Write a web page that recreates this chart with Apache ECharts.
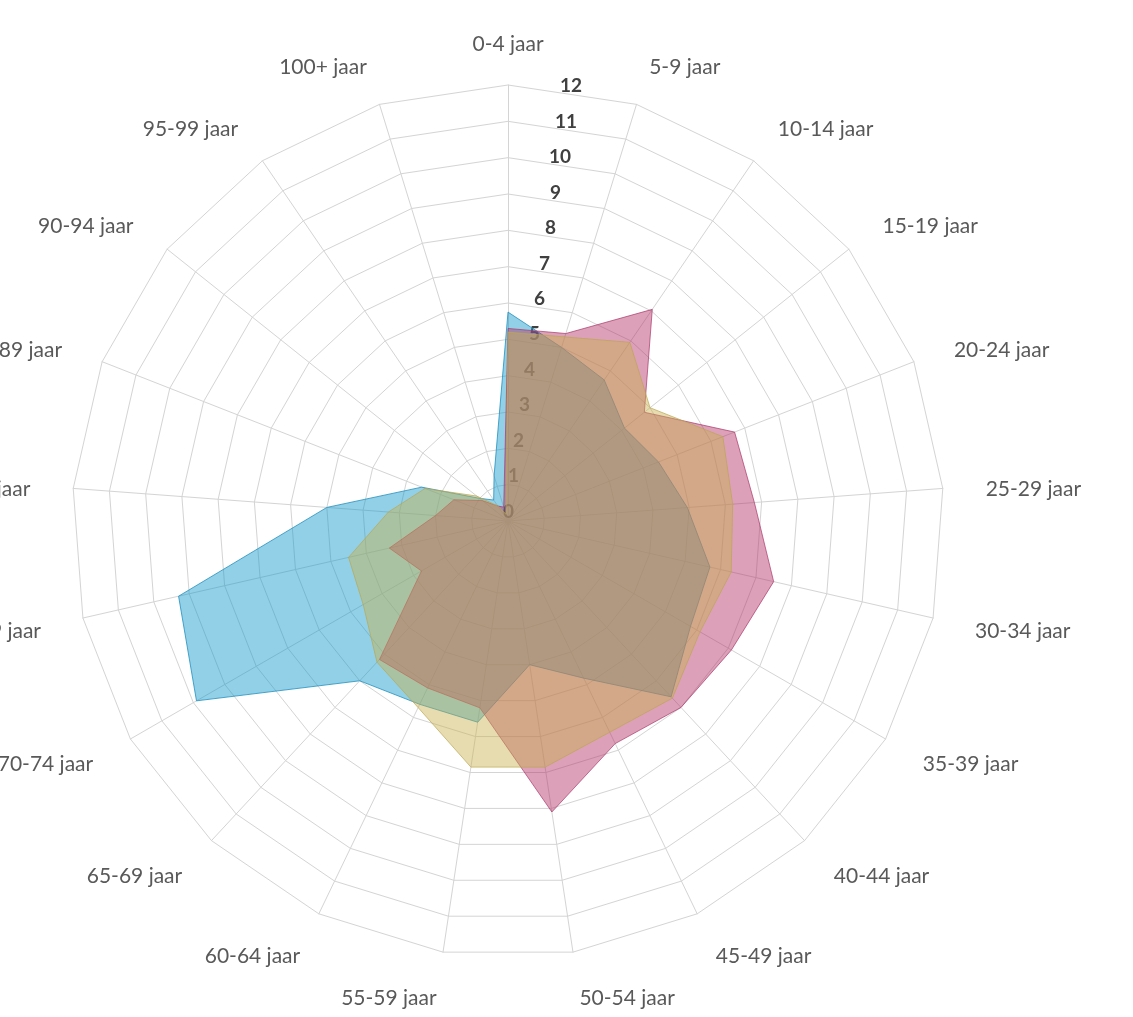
<!DOCTYPE html>
<html>
<head>
<meta charset="utf-8">
<script src="https://cdn.jsdelivr.net/npm/echarts@6/dist/echarts.min.js"></script>
<style>
  html, body { margin: 0; padding: 0; background: #fff; }
  #chart { width: 1133px; height: 1017px; }
</style>
</head>
<body>
<div id="chart"></div>
<script>
// leeftijdsgroepen (met de klok mee vanaf boven)
var ageGroups = ['0-4 jaar', '5-9 jaar', '10-14 jaar', '15-19 jaar', '20-24 jaar', '25-29 jaar',
  '30-34 jaar', '35-39 jaar', '40-44 jaar', '45-49 jaar', '50-54 jaar', '55-59 jaar',
  '60-64 jaar', '65-69 jaar', '70-74 jaar', '75-79 jaar', '80-84 jaar', '85-89 jaar',
  '90-94 jaar', '95-99 jaar', '100+ jaar'];

var blauw = [5.75, 5.0, 4.7, 4.1, 4.45, 4.95, 5.7, 5.8, 6.6, 4.8, 4.0, 5.6, 5.6, 6.0, 9.9, 9.3, 5.0, 2.55, 1.0, 0.7, 1.3];
var roze  = [5.3, 5.4, 7.05, 4.8, 6.7, 6.8, 7.5, 7.1, 7.0, 6.8, 8.1, 5.2, 5.1, 5.2, 2.75, 3.35, 2.0, 1.6, 0.9, 0.5, 0.4];
var geel  = [5.2, 5.3, 5.95, 5.0, 6.35, 6.2, 6.3, 6.1, 6.65, 6.45, 6.85, 6.85, 5.7, 5.3, 4.6, 4.5, 3.3, 2.45, 1.1, 0.5, 0.2];

var valueTicks = [0, 1, 2, 3, 4, 5, 6, 7, 8, 9, 10, 11, 12];
var axisMax = 12;

// echarts legt de assen tegen de klok in, dus volgorde omdraaien (0-4 blijft boven)
var order = [0];
for (var k = ageGroups.length - 1; k > 0; k--) order.push(k);

function reorder(arr) {
  return order.map(function (i) { return arr[i]; });
}

var indicators = order.map(function (i, idx) {
  var ind = { name: ageGroups[i], min: 0, max: axisMax };
  if (idx === 0) {
    ind.axisLabel = { show: true };
    ind.nameGap = 30;
  }
  return ind;
});

// waardelabels lopen schuin naar rechts weg, zoals in excel
var labelRich = {};
valueTicks.forEach(function (v) {
  var up = 9.5 - 0.9 * v;
  var left = v < 10 ? 5.2 * v : 5.2 * v - 5.6;
  labelRich['t' + v] = {
    color: '#404040',
    fontSize: 19,
    fontWeight: 'bold',
    fontFamily: 'Lato',
    padding: [up < 0 ? -2 * up : 0, 0, up > 0 ? 2 * up : 0, Math.round(left)]
  };
});

var chart = echarts.init(document.getElementById('chart'));

var option = {
  backgroundColor: '#ffffff',
  animation: false,
  radar: {
    center: [508, 521],
    radius: 436,
    startAngle: 90,
    shape: 'polygon',
    splitNumber: 12,
    indicator: indicators,
    axisName: {
      formatter: function (name) { return '{n|' + name + '}'; },
      rich: {
        n: {
          color: '#595959',
          fontSize: 21,
          fontFamily: 'Lato',
          padding: [8, 0, 0, 0]
        }
      }
    },
    nameGap: 43,
    axisLine: { lineStyle: { color: '#d4d4d4', width: 1 } },
    splitLine: { lineStyle: { color: '#d4d4d4', width: 1 } },
    splitArea: { show: false },
    axisTick: { show: false },
    axisLabel: {
      show: false,
      margin: 5,
      align: 'left',
      formatter: function (v) { return '{t' + v + '|' + v + '}'; },
      rich: labelRich
    }
  },
  series: [{
    type: 'radar',
    symbol: 'none',
    data: [
      {
        name: 'blauw',
        value: reorder(blauw),
        lineStyle: { color: '#2b8fbd', width: 1, opacity: 0.8 },
        areaStyle: { color: '#0b97c7', opacity: 0.45 }
      },
      {
        name: 'roze',
        value: reorder(roze),
        lineStyle: { color: '#a83c6c', width: 1, opacity: 0.7 },
        areaStyle: { color: '#b12c63', opacity: 0.45 }
      },
      {
        name: 'geel',
        value: reorder(geel),
        lineStyle: { color: '#b8a450', width: 1, opacity: 0.7 },
        areaStyle: { color: '#c7b14d', opacity: 0.45 }
      }
    ]
  }]
};

chart.setOption(option);
</script>
</body>
</html>
